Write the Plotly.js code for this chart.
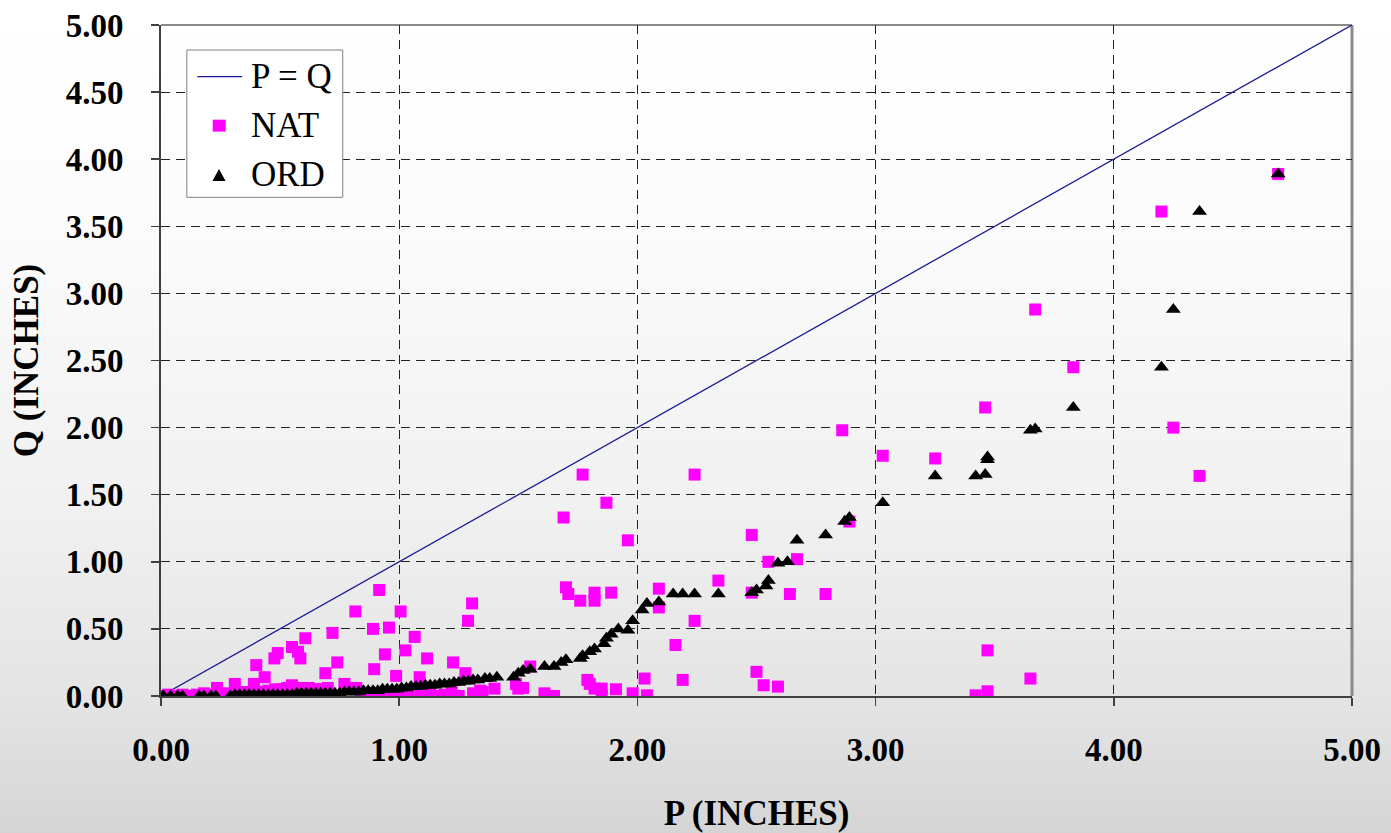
<!DOCTYPE html>
<html>
<head>
<meta charset="utf-8">
<script src="https://cdn.plot.ly/plotly-3.0.1.min.js"></script>
<style>
  html, body { margin:0; padding:0; }
  body { width:1391px; height:833px; overflow:hidden;
    background: linear-gradient(to bottom, #ffffff 0%, #fcfcfc 25%, #f1f1f1 60%, #e4e4e4 84%, #d5d5d5 100%); }
  #chart { width:1391px; height:833px; }
</style>
</head>
<body>
<div id="chart"></div>
<script>
// P = Q reference line
const lineX = [0, 5];
const lineY = [0, 5];

// NAT series (P, Q in inches)
const natX = [0.00,0.03,0.06,0.09,0.12,0.15,0.18,0.21,0.235,0.26,0.28,0.31,0.33,0.36,0.39,0.40,0.42,0.435,0.45,0.476,0.48,0.49,0.51,0.53,0.55,0.55,0.575,0.585,0.59,0.606,0.62,0.65,0.67,0.69,0.70,0.72,0.74,0.77,0.80,0.816,0.82,0.84,0.87,0.89,0.895,0.916,0.92,0.94,0.957,0.97,0.987,1.006,1.00,1.026,1.04,1.065,1.086,1.09,1.117,1.13,1.16,1.19,1.22,1.226,1.25,1.278,1.289,1.306,1.31,1.34,1.35,1.40,1.49,1.50,1.52,1.55,1.61,1.65,1.69,1.70,1.71,1.76,1.77,1.79,1.80,1.82,1.82,1.82,1.85,1.85,1.87,1.89,1.91,1.96,1.98,2.03,2.04,2.09,2.09,2.16,2.19,2.24,2.24,2.34,2.48,2.48,2.50,2.53,2.55,2.59,2.64,2.67,2.79,2.86,2.89,3.03,3.25,3.42,3.46,3.47,3.47,3.65,3.67,3.83,4.20,4.25,4.36,4.69];
const natY = [0.00,0.01,0.00,0.01,0.00,0.01,0.02,0.01,0.06,0.01,0.02,0.09,0.02,0.03,0.09,0.23,0.03,0.14,0.04,0.28,0.05,0.32,0.05,0.06,0.365,0.08,0.33,0.28,0.06,0.43,0.06,0.05,0.05,0.17,0.06,0.47,0.25,0.09,0.06,0.63,0.06,0.01,0.00,0.50,0.20,0.79,0.00,0.31,0.51,0.01,0.15,0.63,0.00,0.34,0.01,0.44,0.14,0.00,0.28,0.02,0.00,0.01,0.04,0.25,0.00,0.17,0.56,0.69,0.02,0.04,0.03,0.055,0.09,0.055,0.06,0.22,0.02,0.00,1.33,0.81,0.76,0.71,1.65,0.12,0.09,0.055,0.77,0.71,0.055,0.005,1.44,0.77,0.05,1.16,0.02,0.13,0.005,0.80,0.66,0.38,0.12,1.65,0.56,0.86,1.20,0.77,0.18,0.08,1.00,0.07,0.76,1.02,0.76,1.98,1.30,1.79,1.77,0.005,2.15,0.34,0.035,0.13,2.88,2.45,3.61,2.00,1.64,3.89];

// ORD series (P, Q in inches)
const ordX = [0.01,0.04,0.07,0.09,0.16,0.18,0.21,0.23,0.29,0.31,0.33,0.35,0.37,0.39,0.41,0.43,0.45,0.47,0.49,0.51,0.53,0.55,0.57,0.59,0.61,0.63,0.65,0.67,0.69,0.71,0.73,0.75,0.77,0.79,0.81,0.83,0.85,0.87,0.89,0.91,0.93,0.95,0.97,0.99,1.01,1.03,1.05,1.07,1.09,1.11,1.13,1.15,1.17,1.19,1.21,1.23,1.25,1.27,1.29,1.31,1.33,1.36,1.38,1.41,1.48,1.50,1.52,1.55,1.61,1.65,1.68,1.70,1.76,1.77,1.80,1.82,1.86,1.87,1.89,1.92,1.96,1.98,2.02,2.04,2.09,2.15,2.19,2.24,2.34,2.48,2.50,2.54,2.55,2.59,2.63,2.67,2.79,2.87,2.89,3.03,3.25,3.42,3.46,3.47,3.47,3.65,3.67,3.83,4.20,4.25,4.36,4.69];
const ordY = [0.00,0.00,0.00,0.00,0.00,0.00,0.00,0.00,0.00,0.01,0.01,0.01,0.01,0.01,0.01,0.01,0.01,0.01,0.01,0.01,0.01,0.01,0.02,0.02,0.02,0.02,0.02,0.02,0.02,0.02,0.02,0.02,0.03,0.03,0.03,0.03,0.04,0.04,0.04,0.04,0.05,0.05,0.05,0.05,0.06,0.06,0.07,0.07,0.07,0.08,0.08,0.08,0.09,0.09,0.09,0.10,0.10,0.11,0.11,0.12,0.12,0.13,0.13,0.14,0.14,0.17,0.19,0.20,0.22,0.22,0.25,0.27,0.28,0.30,0.33,0.35,0.39,0.43,0.46,0.50,0.49,0.56,0.64,0.69,0.70,0.76,0.76,0.76,0.76,0.77,0.79,0.82,0.86,0.99,1.00,1.16,1.20,1.30,1.33,1.44,1.64,1.64,1.65,1.76,1.78,1.98,1.99,2.15,2.45,2.88,3.61,3.89];

// Axis ticks
const xTicks = [0, 1, 2, 3, 4, 5];
const xTickText = ["0.00", "1.00", "2.00", "3.00", "4.00", "5.00"];
const yTicks = [0, 0.5, 1, 1.5, 2, 2.5, 3, 3.5, 4, 4.5, 5];
const yTickText = ["0.00", "0.50", "1.00", "1.50", "2.00", "2.50", "3.00", "3.50", "4.00", "4.50", "5.00"];

// Series names
const seriesNames = ["P = Q", "NAT", "ORD"];
const seriesColors = ['#1c1c94', '#ff00ff', '#000000'];

const serif = "Liberation Serif";

const traces = [
  { x: lineX, y: lineY, mode: 'lines', name: seriesNames[0],
    line: { color: seriesColors[0], width: 1.3 } },
  { x: natX, y: natY, mode: 'markers', name: seriesNames[1],
    marker: { symbol: 'square', size: 12, color: seriesColors[1] } },
  { x: ordX, y: ordY, mode: 'markers', name: seriesNames[2],
    marker: { symbol: 'triangle-up', size: 13, color: seriesColors[2] } }
];

const axisCommon = {
  showgrid: true, gridcolor: '#222', gridwidth: 1, griddash: '9px,6px',
  zeroline: false, showline: true, linecolor: '#404040', linewidth: 2,
  ticks: 'outside', ticklen: 8, tickcolor: '#404040', tickwidth: 1.5,
  tickfont: { family: serif, size: 33, color: '#000', weight: 'bold' }
};

// Legend box (drawn as decoration, paper coordinates)
const legendBox = { x0: 0.0217, x1: 0.1526, y0: 0.7432, y1: 0.9627 };
const legendTextX = 0.0735;
const legendRowY = [0.9230, 0.8500, 0.7765];

const layout = {
  width: 1391, height: 833,
  font: { family: serif, size: 34, color: '#000' },
  margin: { l: 161, r: 39, t: 25, b: 137 },
  paper_bgcolor: 'rgba(0,0,0,0)',
  plot_bgcolor: 'rgba(0,0,0,0)',
  showlegend: false,
  xaxis: Object.assign({}, axisCommon, {
    range: [0, 5], tickmode: 'array', tickvals: xTicks, ticktext: xTickText,
    ticklabelstandoff: 15,
    title: { text: 'P (INCHES)', standoff: 36,
      font: { family: serif, size: 35, color: '#000', weight: 'bold' } }
  }),
  yaxis: Object.assign({}, axisCommon, {
    range: [0, 5], tickmode: 'array', tickvals: yTicks, ticktext: yTickText,
    ticklabelstandoff: 21,
    title: { text: 'Q (INCHES)', standoff: 16,
      font: { family: serif, size: 35, color: '#000', weight: 'bold' } }
  }),
  shapes: [
    { type: 'line', xref: 'paper', yref: 'paper', x0: 0, x1: 1, y0: 1, y1: 1,
      line: { color: '#8a8a8a', width: 2 }, layer: 'below' },
    { type: 'line', xref: 'paper', yref: 'paper', x0: 1, x1: 1, y0: 0, y1: 1,
      line: { color: '#8a8a8a', width: 3 }, layer: 'below' },
    // legend frame
    { type: 'rect', xref: 'paper', yref: 'paper',
      x0: legendBox.x0, x1: legendBox.x1, y0: legendBox.y0, y1: legendBox.y1,
      fillcolor: '#ffffff', line: { color: '#808080', width: 1 } },
    // legend symbols
    { type: 'line', xref: 'paper', yref: 'paper', x0: 0.0304, x1: 0.0682,
      y0: legendRowY[0], y1: legendRowY[0], line: { color: seriesColors[0], width: 1.3 } },
    { type: 'rect', xref: 'paper', yref: 'paper', x0: 0.0434, x1: 0.0543,
      y0: legendRowY[1] - 0.0089, y1: legendRowY[1] + 0.0089,
      fillcolor: seriesColors[1], line: { width: 0 } },
    { type: 'path', xref: 'paper', yref: 'paper',
      path: 'M 0.0432 0.7675 L 0.0542 0.7675 L 0.0487 0.7854 Z',
      fillcolor: seriesColors[2], line: { width: 0 } }
  ],
  annotations: seriesNames.map(function (n, i) {
    return { xref: 'paper', yref: 'paper', x: legendTextX, y: legendRowY[i],
      xanchor: 'left', yanchor: 'middle', showarrow: false, text: n,
      font: { family: serif, size: 35, color: '#000' } };
  })
};

Plotly.newPlot('chart', traces, layout, { displayModeBar: false, staticPlot: true });
</script>
</body>
</html>
